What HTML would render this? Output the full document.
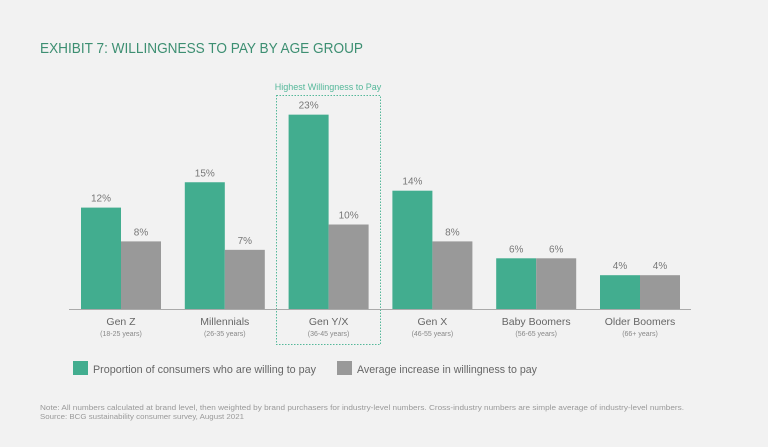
<!DOCTYPE html>
<html><head><meta charset="utf-8"><style>
body{margin:0;background:#f2f2f2;font-family:"Liberation Sans",sans-serif;}
svg{display:block}
</style></head><body>
<svg width="768" height="447">
<rect width="768" height="447" fill="#f2f2f2"/>
<text x="40" y="53" font-size="15" fill="#3d8f72" textLength="323" lengthAdjust="spacingAndGlyphs">EXHIBIT 7: WILLINGNESS TO PAY BY AGE GROUP</text>
<rect x="276.5" y="95.5" width="104" height="249" fill="none" stroke="#55b89a" stroke-dasharray="1.5,1.5"/>
<text x="328" y="90" font-size="9" fill="#55b89a" text-anchor="middle">Highest Willingness to Pay</text>
<g id="bars"></g>
<line x1="69" y1="309.5" x2="691" y2="309.5" stroke="#aaa"/>
<g id="labels"></g>
<rect x="73" y="361" width="15" height="14" fill="#42ad8f"/>
<text x="93" y="373" font-size="11" fill="#666" textLength="223" lengthAdjust="spacingAndGlyphs">Proportion of consumers who are willing to pay</text>
<rect x="337" y="361" width="15" height="14" fill="#999"/>
<text x="357" y="373" font-size="11" fill="#666" textLength="180" lengthAdjust="spacingAndGlyphs">Average increase in willingness to pay</text>
<text x="40" y="410" font-size="7.5" fill="#999" textLength="644" lengthAdjust="spacingAndGlyphs">Note: All numbers calculated at brand level, then weighted by brand purchasers for industry-level numbers. Cross-industry numbers are simple average of industry-level numbers.</text>
<text x="40" y="419" font-size="7.5" fill="#999" textLength="204" lengthAdjust="spacingAndGlyphs">Source: BCG sustainability consumer survey, August 2021</text>
</svg>
<script>
const categories=["Gen Z","Millennials","Gen Y/X","Gen X","Baby Boomers","Older Boomers"];
const subLabels=["(18-25 years)","(26-35 years)","(36-45 years)","(46-55 years)","(56-65 years)","(66+ years)"];
const willing=[12,15,23,14,6,4];
const increase=[8,7,10,8,6,4];
const NS="http://www.w3.org/2000/svg";
const base=309,scale=8.45,x0=81,step=103.8,bw=40;
const y=v=>base-v*scale;
const xg=i=>x0+i*step;
const bars=document.getElementById('bars'),labels=document.getElementById('labels');
function mk(tag,attrs,parent,txt){const e=document.createElementNS(NS,tag);for(const k in attrs)e.setAttribute(k,attrs[k]);if(txt!==undefined)e.textContent=txt;parent.appendChild(e);return e;}
categories.forEach((c,i)=>{
  [[willing,"#42ad8f",0,"willing"],[increase,"#999",bw,"increase"]].forEach(([arr,col,off,nm])=>{
    const v=arr[i];
    const r=mk('rect',{x:xg(i)+off,y:y(v),width:bw,height:v*scale,fill:col},bars);
    
    
    const t=mk('text',{x:xg(i)+off+bw/2,y:y(v)-6,'font-size':10,fill:'#777','text-anchor':'middle'},bars,v+'%');
    
    
  });
  const l=mk('text',{x:xg(i)+bw,y:325,'font-size':10.5,fill:'#666','text-anchor':'middle'},labels,c);
  
  
  const s=mk('text',{x:xg(i)+bw,y:336,'font-size':7,fill:'#888','text-anchor':'middle'},labels,subLabels[i]);
  
  
});
</script>
</body></html>
